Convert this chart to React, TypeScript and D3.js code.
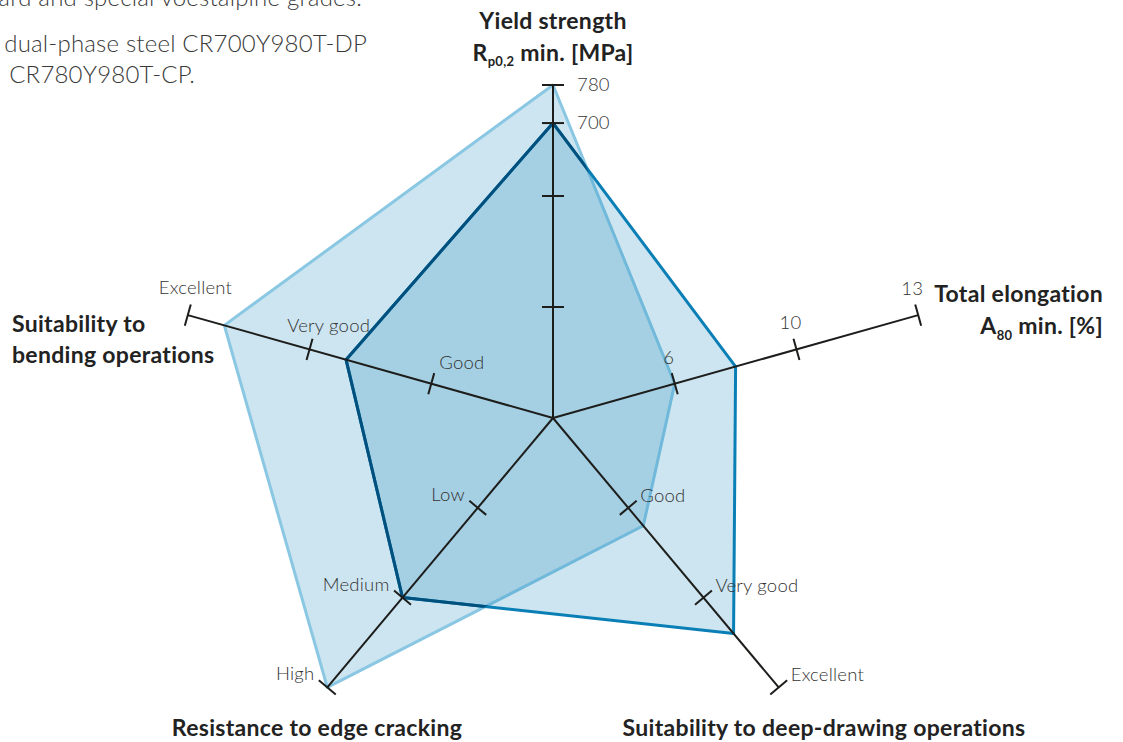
import React from 'react';
import * as d3 from 'd3';

const W = 1123;
const H = 742;
const CX = 553;
const CY = 418;
const RX = 384;
const RY = 333;
const FONT = 'Lato, "Open Sans", sans-serif';

// Axes, clockwise from the top
const axisKeys = ['yield', 'elongation', 'deepDrawing', 'edgeCracking', 'bending'];

// Tick labels
const yieldTickLabels = [700, 780];
const elongationTickLabels = [6, 10, 13];
const deepDrawingLevels = ['Good', 'Very good', 'Excellent'];
const edgeCrackingLevels = ['Low', 'Medium', 'High'];
const bendingLevels = ['Good', 'Very good', 'Excellent'];

// Series values: [yield MPa, elongation %, deep-drawing score, edge-cracking score, bending score]
const cpValues = [780, 6, 1.2, 3, 2.7]; // CR780Y980T-CP (light)
const dpValues = [700, 8, 2.4, 2, 1.7]; // CR700Y980T-DP (dark)

// Intro text (partly cut off at the top left, as in the source)
const introLines = [
  'standard and special voestalpine grades.',
  'dual-phase steel CR700Y980T-DP',
  'CR780Y980T-CP.',
];

const yieldScale = d3.scaleLinear().domain([80, 780]).range([0, 1]);
const elongScale = d3.scaleLinear().domain([0, 6, 10, 13]).range([0, 1 / 3, 2 / 3, 1]);
const levelScale = d3.scaleLinear().domain([0, 3]).range([0, 1]);
const scales = [yieldScale, elongScale, levelScale, levelScale, levelScale];

const angle = (i: number) => (i * 2 * Math.PI) / axisKeys.length;
const project = (i: number, f: number): [number, number] => [
  CX + f * RX * Math.sin(angle(i)),
  CY - f * RY * Math.cos(angle(i)),
];
const dir = (i: number) => {
  const [x, y] = project(i, 1);
  const dx = x - CX;
  const dy = y - CY;
  const l = Math.hypot(dx, dy);
  return [dx / l, dy / l];
};

const line = d3.line<[number, number]>().curve(d3.curveLinearClosed);
const polyPath = (vals: number[]) => line(vals.map((v, i) => project(i, scales[i](v)))) as string;

type Tick = { axis: number; f: number; label?: string };
const ticks: Tick[] = [];
[1 / 3, 2 / 3].forEach((f) => ticks.push({ axis: 0, f }));
yieldTickLabels.forEach((v) => ticks.push({ axis: 0, f: yieldScale(v), label: String(v) }));
elongationTickLabels.forEach((v) => ticks.push({ axis: 1, f: elongScale(v), label: String(v) }));
deepDrawingLevels.forEach((s, k) => ticks.push({ axis: 2, f: levelScale(k + 1), label: s }));
edgeCrackingLevels.forEach((s, k) => ticks.push({ axis: 3, f: levelScale(k + 1), label: s }));
bendingLevels.forEach((s, k) => ticks.push({ axis: 4, f: levelScale(k + 1), label: s }));

// label placement per axis: label point = project(axis, f * spread) + (dx, dy)
const labelStyle: Record<number, { dx: number; dy: number; spread: number; anchor: string }> = {
  0: { dx: 24, dy: 6, spread: 1, anchor: 'start' },
  1: { dx: -6, dy: -20, spread: 1, anchor: 'middle' },
  2: { dx: 12, dy: -6, spread: 1, anchor: 'start' },
  3: { dx: -13, dy: -7, spread: 1, anchor: 'end' },
  4: { dx: 42, dy: -11, spread: 1.094, anchor: 'middle' },
};

export default function App() {
  const cpPath = polyPath(cpValues);
  const dpPath = polyPath(dpValues);
  const titleStyle = {
    fontFamily: FONT,
    fontWeight: 700,
    fontSize: 23,
    letterSpacing: 0.3,
    fill: '#222',
  } as const;
  return (
    <svg width={W} height={H} style={{ position: 'absolute', left: 0, top: 0, background: '#fff' }}>
      <defs>
        <clipPath id="cpClip">
          <path d={cpPath} />
        </clipPath>
      </defs>
      {introLines.map((t, i) => (
        <text
          key={i}
          x={[362, 367, 195][i]}
          y={[6, 52, 83][i]}
          textAnchor="end"
          fontFamily={FONT}
          fontWeight={300}
          fontSize={24}
          letterSpacing={0.2}
          fill="#3a3a3a"
        >
          {t}
        </text>
      ))}

      {/* CP series (light) */}
      <path d={cpPath} fill="#1183b8" fillOpacity={0.21} stroke="none" />
      <path d={cpPath} fill="none" stroke="#8ac7e3" strokeWidth={3} strokeLinejoin="round" />
      {/* DP series (dark) */}
      <path d={dpPath} fill="#1183b8" fillOpacity={0.21} stroke="none" />
      <path d={dpPath} fill="none" stroke="#0a7fb6" strokeWidth={3} strokeLinejoin="round" />
      <path d={dpPath} fill="none" stroke="#00507e" strokeWidth={3} strokeLinejoin="round" clipPath="url(#cpClip)" />

      {/* axes */}
      {axisKeys.map((k, i) => {
        const [x, y] = project(i, 1);
        return <line key={k} x1={CX} y1={CY} x2={x} y2={y} stroke="#1d1d1b" strokeWidth={2} />;
      })}
      {ticks.map((t, j) => {
        const [x, y] = project(t.axis, t.f);
        const [ux, uy] = dir(t.axis);
        const nx = -uy;
        const ny = ux;
        const st = labelStyle[t.axis];
        const [lx, ly] = project(t.axis, t.f * st.spread);
        return (
          <g key={j}>
            <line x1={x - 11 * nx} y1={y - 11 * ny} x2={x + 11 * nx} y2={y + 11 * ny} stroke="#1d1d1b" strokeWidth={2} />
            {t.label && (
              <text
                x={lx + st.dx}
                y={ly + st.dy}
                textAnchor={st.anchor as any}
                fontFamily={FONT}
                fontWeight={300}
                fontSize={18.5}
                letterSpacing={0.2}
                fill="#333"
              >
                {t.label}
              </text>
            )}
          </g>
        );
      })}

      {/* axis titles */}
      <text x={553} y={29} textAnchor="middle" {...titleStyle}>Yield strength</text>
      <text x={553} y={61} textAnchor="middle" {...titleStyle}>
        R<tspan fontSize={13} dy={5}>p0,2</tspan>
        <tspan dy={-5}> min. [MPa]</tspan>
      </text>
      <text x={1103} y={302} textAnchor="end" {...titleStyle}>Total elongation</text>
      <text x={1103} y={334} textAnchor="end" {...titleStyle}>
        A<tspan fontSize={13} dy={6}>80</tspan>
        <tspan dy={-6}> min. [%]</tspan>
      </text>
      <text x={12} y={332} textAnchor="start" {...titleStyle}>Suitability to</text>
      <text x={12} y={363} textAnchor="start" {...titleStyle}>bending operations</text>
      <text x={317} y={736} textAnchor="middle" {...titleStyle}>Resistance to edge cracking</text>
      <text x={824} y={736} textAnchor="middle" {...titleStyle}>Suitability to deep-drawing operations</text>
    </svg>
  );
}
